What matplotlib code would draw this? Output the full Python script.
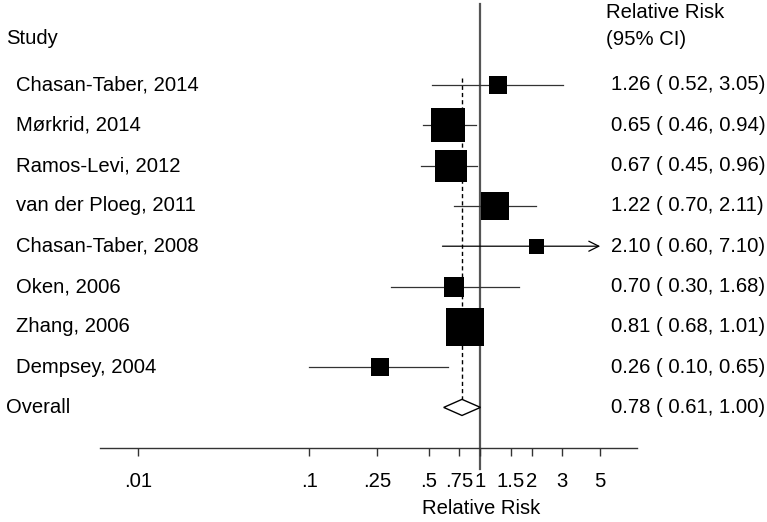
import matplotlib
matplotlib.use("Agg")
import matplotlib.pyplot as plt
import matplotlib.transforms as mtransforms
import numpy as np

plt.rcParams['font.family'] = ['Liberation Sans', 'DejaVu Sans']

# Study data (relative risks with 95% CI, weights)
studies = ["Chasan-Taber, 2014", "Mørkrid, 2014", "Ramos-Levi, 2012",
           "van der Ploeg, 2011", "Chasan-Taber, 2008", "Oken, 2006",
           "Zhang, 2006", "Dempsey, 2004"]
rr = [1.26, 0.65, 0.67, 1.22, 2.10, 0.70, 0.81, 0.26]
lower = [0.52, 0.46, 0.45, 0.70, 0.60, 0.30, 0.68, 0.10]
upper = [3.05, 0.94, 0.96, 2.11, 7.10, 1.68, 1.01, 0.65]
weights = [6.4, 19.4, 17.1, 13.0, 4.0, 7.1, 26.3, 6.2]

overall_rr = 0.78
overall_lo = 0.61
overall_hi = 1.00

tick_values = [0.01, 0.1, 0.25, 0.5, 0.75, 1, 1.5, 2, 3, 5]
tick_labels = [".01", ".1", ".25", ".5", ".75", "1", "1.5", "2", "3", "5"]

W, H = 767, 522
fig = plt.figure(figsize=(W / 100, H / 100), dpi=100)
ax = fig.add_axes([100 / W, (H - 448) / H, 537 / W, 448 / H])
ax.set_xscale("log")
ax.set_xlim(0.00601, 8.2)
ax.set_ylim(9.007, -2.109)

fs = 14.6

for s in ["top", "right", "left"]:
    ax.spines[s].set_visible(False)
ax.spines["bottom"].set_color("#333333")
ax.spines["bottom"].set_linewidth(1.0)
ax.set_yticks([])
ax.set_xticks(tick_values)
ax.set_xticklabels(tick_labels, fontsize=fs)
ax.xaxis.set_minor_locator(matplotlib.ticker.NullLocator())
ax.tick_params(axis="x", direction="out", length=6, width=1.0, color="#333333", pad=11)

line_col = "#333333"
n = len(studies)
xmax_cap = tick_values[-1]

# null line and overall dashed line
ax.axvline(1, ymin=-0.047, ymax=0.991, color="#555555", lw=1.6, clip_on=False, zorder=1)
ax.plot([overall_rr, overall_rr], [-0.17, n + 0.19], color="black", lw=1.0,
        dashes=(3, 2.2), zorder=1)

side_k = 7.5  # px per sqrt(weight)
for i in range(n):
    hi = min(upper[i], xmax_cap)
    if upper[i] > xmax_cap:
        ax.annotate("", xy=(hi, i), xytext=(lower[i], i),
                    arrowprops=dict(arrowstyle="->", color="black", lw=0.9,
                                    mutation_scale=18, shrinkA=0, shrinkB=0))
    else:
        ax.plot([lower[i], hi], [i, i], color=line_col, lw=0.9, zorder=2)
    side = side_k * np.sqrt(weights[i]) * 0.72
    ax.plot(rr[i], i, marker="s", markersize=side, color="black",
            markeredgewidth=0, zorder=3)

# overall diamond
dy = 0.2
ax.fill([overall_lo, overall_rr, overall_hi, overall_rr],
        [n, n - dy, n, n + dy], facecolor="white", edgecolor="black",
        lw=1.0, zorder=3)

# text columns
trans = mtransforms.blended_transform_factory(fig.transFigure, ax.transData)
ax.text(6 / W, -1.16, "Study", transform=trans, fontsize=fs, va="center", ha="left")
ax.text(606 / W, -1.81, "Relative Risk", transform=trans, fontsize=fs, va="center", ha="left")
ax.text(606 / W, -1.14, "(95% CI)", transform=trans, fontsize=fs, va="center", ha="left")

for i in range(n):
    ax.text(16 / W, i, studies[i], transform=trans, fontsize=fs, va="center", ha="left")
    ax.text(611 / W, i, f"{rr[i]:.2f} ( {lower[i]:.2f}, {upper[i]:.2f})",
            transform=trans, fontsize=fs, va="center", ha="left")

ax.text(6 / W, n, "Overall", transform=trans, fontsize=fs, va="center", ha="left")
ax.text(611 / W, n, f"{overall_rr:.2f} ( {overall_lo:.2f}, {overall_hi:.2f})",
        transform=trans, fontsize=fs, va="center", ha="left")

fig.text(481 / W, 1 - 508 / H, "Relative Risk", fontsize=fs, ha="center", va="center")

fig.savefig("out.png", dpi=100)
